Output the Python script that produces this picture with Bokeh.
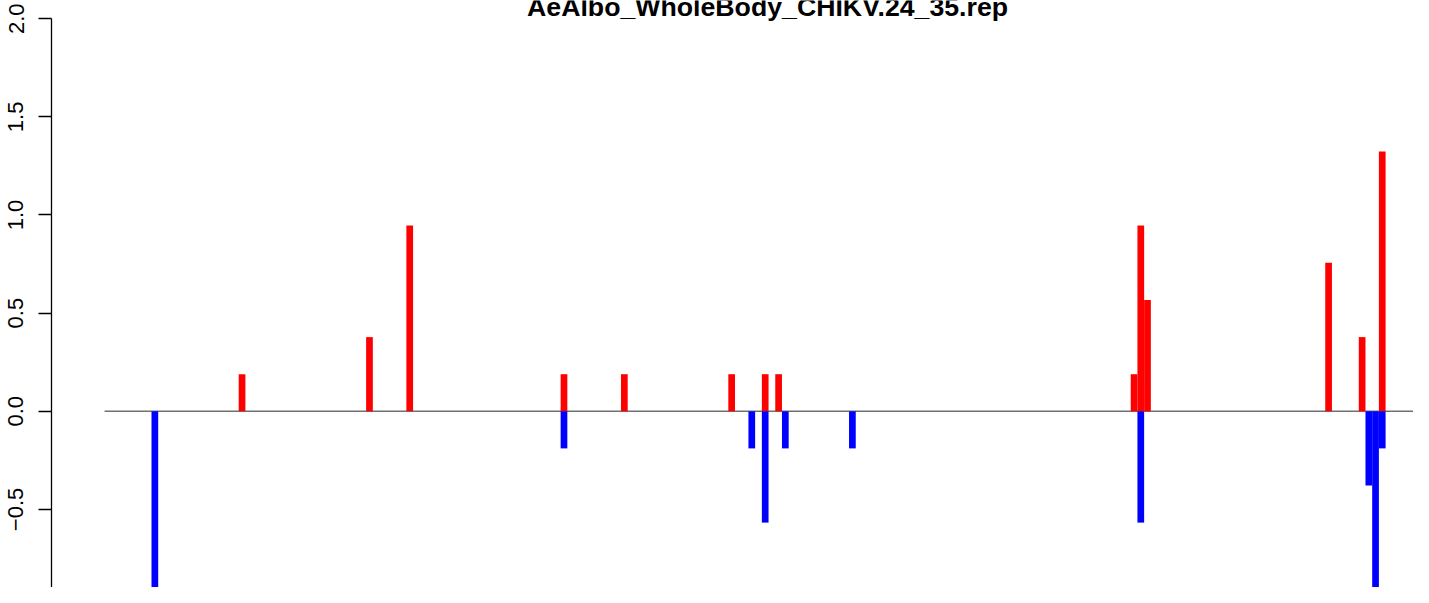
from bokeh.plotting import figure
from bokeh.models import Range1d, FixedTicker, Label
from bokeh.embed import file_html
from bokeh.resources import INLINE

# ---- data (bin index along the track, value) ----
title_text = "AeAlbo_WholeBody_CHIKV.24_35.rep"
n_bins = 200

red_bins = [20, 39, 45, 68, 77, 93, 98, 100, 153, 154, 155, 182, 187, 190]
red_vals = [0.189, 0.378, 0.946, 0.189, 0.189, 0.189, 0.189, 0.189,
            0.189, 0.946, 0.567, 0.757, 0.378, 1.324]

blue_bins = [7, 68, 96, 98, 101, 111, 154, 188, 189, 190]
blue_vals = [-1.135, -0.189, -0.189, -0.567, -0.189, -0.189, -0.567,
             -0.378, -1.135, -0.189]

y_ticks = [-1.0, -0.5, 0.0, 0.5, 1.0, 1.5, 2.0]
y_tick_labels = ["\u22121.0", "\u22120.5", "0.0", "0.5", "1.0", "1.5", "2.0"]

FONT = "Liberation Sans"

p = figure(width=1413, height=587, output_backend="svg", toolbar_location=None,
           x_range=Range1d(-7.91, 195.16), y_range=Range1d(-0.8976, 2.0927),
           x_axis_location=None, min_border_left=51, min_border_right=0,
           min_border_top=0, min_border_bottom=0)
p.outline_line_color = None
p.grid.visible = False
p.background_fill_color = "white"
p.border_fill_color = "white"

# zero line
p.line(x=[0, n_bins], y=[0, 0], line_color="#707070", line_width=1.5)

# bars
p.quad(left=red_bins, right=[b + 1 for b in red_bins], bottom=0, top=red_vals,
       fill_color="#FF0000", line_color=None)
p.quad(left=blue_bins, right=[b + 1 for b in blue_bins], bottom=blue_vals, top=0,
       fill_color="#0000FF", line_color=None)

ax = p.yaxis[0]
ax.ticker = FixedTicker(ticks=y_ticks)
ax.major_label_overrides = {t: l for t, l in zip(y_ticks, y_tick_labels)}
ax.bounds = (-1.0, 2.0)
ax.major_label_orientation = "vertical"
ax.major_label_text_font = FONT
ax.major_label_text_font_size = "22px"
ax.major_label_text_color = "black"
ax.major_label_standoff = 15
ax.major_tick_out = 13
ax.major_tick_in = 0
ax.minor_tick_line_color = None
ax.axis_line_width = 1.3
ax.major_tick_line_width = 1.3
ax.axis_line_color = "black"
ax.major_tick_line_color = "black"

title = Label(x=98.85, y=2.0621, text=title_text, text_align="center",
              text_baseline="alphabetic", text_font=FONT,
              text_font_size="26.7px", text_font_style="bold", text_color="black")
p.add_layout(title)

open("out.html", "w").write(file_html(p, INLINE))
